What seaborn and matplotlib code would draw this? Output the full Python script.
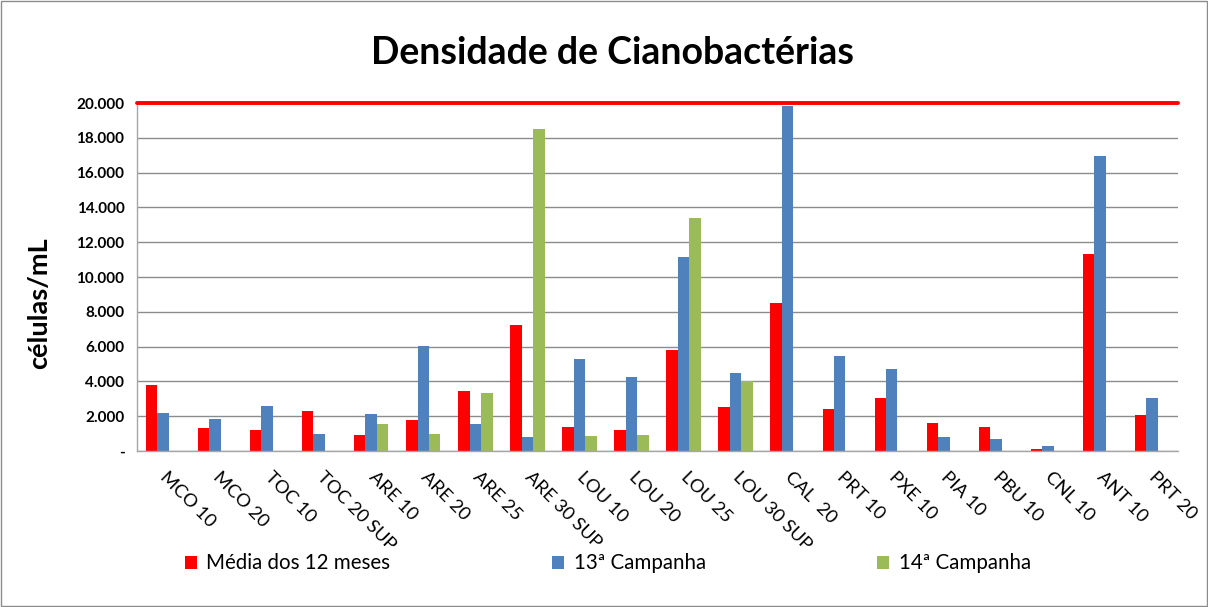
import numpy as np
import pandas as pd
import matplotlib
matplotlib.use("Agg")
import matplotlib.pyplot as plt
import seaborn as sns
from matplotlib.patches import Rectangle, Patch
from matplotlib.ticker import FixedLocator

# Pontos de amostragem
pontos = ["MCO 10", "MCO 20", "TOC 10", "TOC 20 SUP", "ARE 10", "ARE 20", "ARE 25",
          "ARE 30 SUP", "LOU 10", "LOU 20", "LOU 25", "LOU 30 SUP", "CAL  20", "PRT 10",
          "PXE 10", "PIA 10", "PBU 10", "CNL 10", "ANT 10", "PRT 20"]

# Densidade (células/mL)
media_12_meses = [3800, 1340, 1230, 2320, 940, 1790, 3470, 7220, 1400, 1230, 5820, 2550,
                  8480, 2440, 3030, 1590, 1400, 130, 11300, 2050]
campanha_13 = [2190, 1820, 2570, 1000, 2150, 6030, 1540, 810, 5280, 4240, 11130, 4490,
               19830, 5450, 4720, 810, 690, 310, 16970, 3030]
campanha_14 = [np.nan, np.nan, np.nan, np.nan, 1550, 1000, 3360, 18500, 860, 940, 13380, 4050,
               np.nan, np.nan, np.nan, np.nan, np.nan, np.nan, np.nan, np.nan]

series = ["Média dos 12 meses", "13ª Campanha", "14ª Campanha"]
cores = ["#FF0000", "#4F81BD", "#9BBB59"]
limite = 20000
yticks = [0, 2000, 4000, 6000, 8000, 10000, 12000, 14000, 16000, 18000, 20000]
ytick_labels = ["-", "2.000", "4.000", "6.000", "8.000", "10.000", "12.000",
                "14.000", "16.000", "18.000", "20.000"]

df = pd.DataFrame({
    "ponto": pontos * 3,
    "serie": [s for s in series for _ in pontos],
    "valor": media_12_meses + campanha_13 + campanha_14,
})

sns.set_style("white")
plt.rcParams["font.family"] = ["Lato", "DejaVu Sans"]
plt.rcParams["text.color"] = "black"
plt.rcParams["xtick.color"] = "black"
plt.rcParams["ytick.color"] = "black"

fig = plt.figure(figsize=(12.08, 6.07), dpi=100)
ax = fig.add_axes([0.1134, 0.257, 0.8618, 0.5733])

sns.barplot(data=df, x="ponto", y="valor", hue="serie", hue_order=series,
            palette=cores, width=0.66, gap=0, dodge=True, ax=ax,
            legend=False, errorbar=None, linewidth=0, saturation=1)

ax.set_ylim(0, 20000)
ax.set_xlim(-0.5, len(pontos) - 0.5)
ax.yaxis.set_major_locator(FixedLocator(yticks))
ax.set_yticklabels(ytick_labels, fontsize=11, fontweight="bold")
ax.set_xlabel("")
ax.set_ylabel("")
ax.grid(axis="y", color="#8C8C8C", linewidth=1.0)
ax.set_axisbelow(True)
for s in ["top", "right"]:
    ax.spines[s].set_visible(False)
for s in ["left", "bottom"]:
    ax.spines[s].set_color("#A6A6A6")
    ax.spines[s].set_linewidth(1.0)
ax.tick_params(axis="y", length=6, color="#8C8C8C", pad=3, labelcolor="black")
ax.tick_params(axis="x", length=0, pad=17, labelcolor="black")
ax.set_xticks(range(len(pontos)))
ax.set_xticklabels(pontos, rotation=-45, ha="left", va="center",
                   rotation_mode="anchor", fontsize=13.3)

# Limite de referência
ax.axhline(limite, color="#FF0000", linewidth=2.8, zorder=5, clip_on=False)

fig.text(0.507, 0.912, "Densidade de Cianobactérias", ha="center", va="center",
         fontsize=27, fontweight="bold", color="black")
fig.text(0.032, 0.50, "células/mL", ha="center", va="center", rotation=90,
         fontsize=19.5, fontweight="bold", color="black")

# Legenda: uma entrada por série, lado a lado
legend_x = [0.153, 0.457, 0.726]
for nome, cor, x0 in zip(series, cores, legend_x):
    leg = fig.legend([Patch(facecolor=cor, edgecolor="none")], [nome],
                     loc="center left", bbox_to_anchor=(x0, 0.072),
                     frameon=False, fontsize=14.8, handlelength=0.6, handleheight=0.6,
                     handletextpad=0.45, borderpad=0, borderaxespad=0)

fig.patches.append(Rectangle((0.0008, 0.0016), 0.9984, 0.9968, transform=fig.transFigure,
                             fill=False, edgecolor="#8C8C8C", linewidth=1.0))

fig.savefig("out.png", dpi=100, facecolor="white")
